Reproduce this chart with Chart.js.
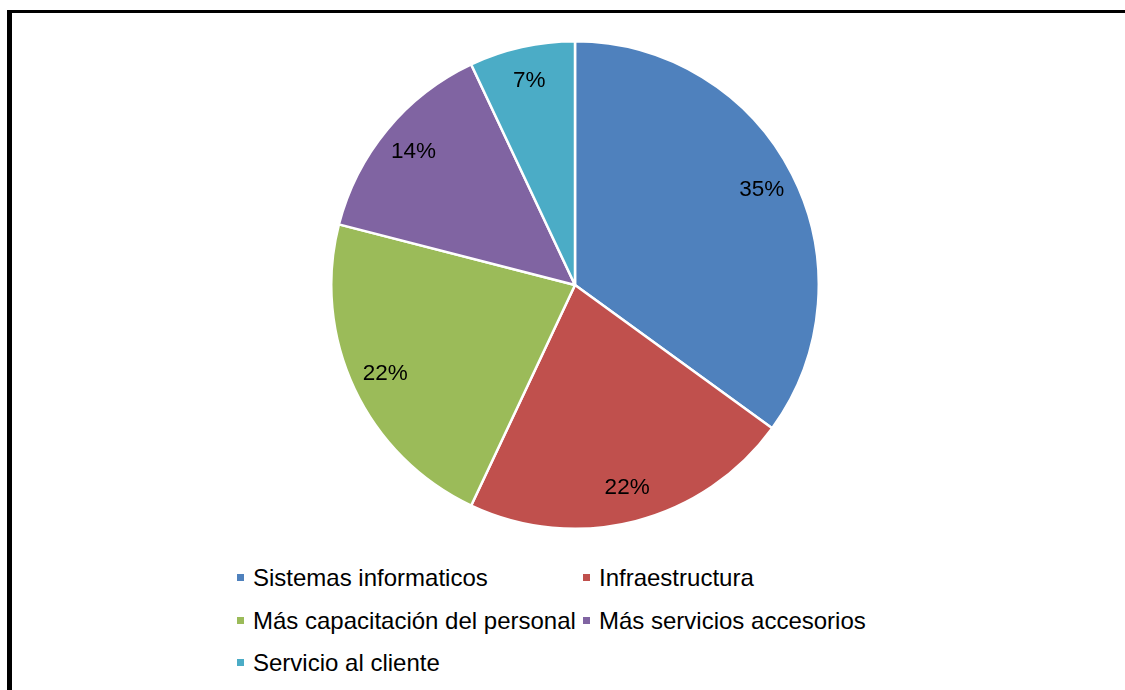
<!DOCTYPE html>
<html>
<head>
<meta charset="utf-8">
<script src="https://cdn.jsdelivr.net/npm/chart.js@4"></script>
<style>
  html, body { margin: 0; padding: 0; background: #fff; }
  body { width: 1125px; height: 690px; position: relative; overflow: hidden;
         font-family: "Liberation Sans", Arial, sans-serif; }
  #marco { position: absolute; left: 7px; top: 10px; right: 0; bottom: 0;
           border-left: 5px solid #000; border-top: 3px solid #000; }
  #torta { position: absolute; left: 330px; top: 40px; width: 490px; height: 490px; }
  #leyenda { position: absolute; left: 237px; top: 563px;
             display: grid; grid-template-columns: 346px auto; row-gap: 0; }
  .item { height: 42.5px; line-height: 30px; font-size: 24px; color: #000; white-space: nowrap; }
  .item span.caja { display: inline-block; width: 7px; height: 7px; margin-right: 9px;
                    vertical-align: middle; position: relative; top: -2px; }
</style>
</head>
<body>
<div id="marco"></div>
<div id="torta"><canvas id="grafico"></canvas></div>
<div id="leyenda"></div>
<script>
// Dati del grafico
var categorie = ['Sistemas informaticos', 'Infraestructura', 'Más capacitación del personal',
                 'Más servicios accesorios', 'Servicio al cliente'];
var valori = [35, 22, 22, 14, 7];
var colori = ['#4F81BD', '#C0504D', '#9BBB59', '#8064A2', '#4BACC6'];

// Plugin per scrivere le percentuali dentro le fette
var etichette = {
  id: 'etichette',
  afterDatasetsDraw: function(chart) {
    var ctx = chart.ctx;
    var meta = chart.getDatasetMeta(0);
    var totale = valori.reduce(function(a, b) { return a + b; }, 0);
    ctx.save();
    ctx.font = '22.5px "Liberation Sans", Arial, sans-serif';
    ctx.fillStyle = '#000';
    ctx.textAlign = 'center';
    ctx.textBaseline = 'middle';
    meta.data.forEach(function(arco, i) {
      var p = arco.getProps(['x', 'y', 'startAngle', 'endAngle', 'outerRadius'], true);
      var medio = (p.startAngle + p.endAngle) / 2;
      var r = p.outerRadius * 0.86;
      var testo = Math.round(valori[i] / totale * 100) + '%';
      ctx.fillText(testo, p.x + Math.cos(medio) * r, p.y + Math.sin(medio) * r);
    });
    ctx.restore();
  }
};

var grafico = new Chart(document.getElementById('grafico').getContext('2d'), {
  type: 'pie',
  data: {
    labels: categorie,
    datasets: [{
      data: valori,
      backgroundColor: colori,
      borderColor: '#fff',
      borderWidth: 2.5,
      hoverOffset: 0
    }]
  },
  options: {
    responsive: true,
    maintainAspectRatio: false,
    animation: false,
    layout: { padding: 0 },
    plugins: {
      legend: { display: false },
      tooltip: { enabled: false }
    }
  },
  plugins: [etichette]
});

// Legenda
var leyenda = document.getElementById('leyenda');
categorie.forEach(function(nome, i) {
  var div = document.createElement('div');
  div.className = 'item';
  div.innerHTML = '<span class="caja" style="background:' + colori[i] + '"></span>' + nome;
  leyenda.appendChild(div);
});
</script>
</body>
</html>
